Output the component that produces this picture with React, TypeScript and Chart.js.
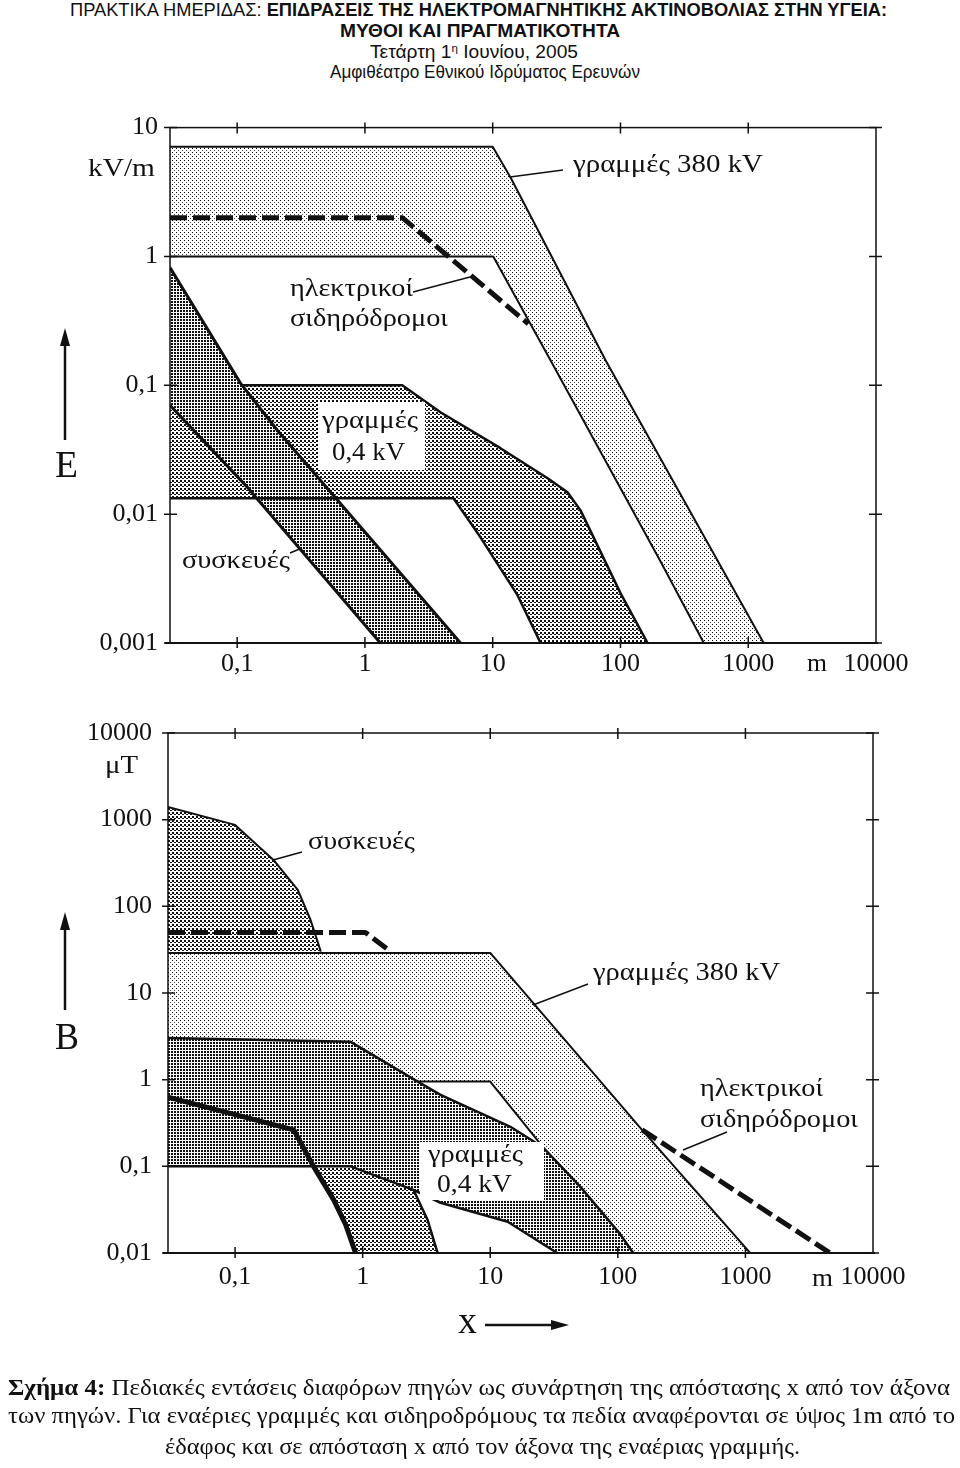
import React, { useEffect, useLayoutEffect, useRef } from 'react';
import { Chart, registerables } from 'chart.js';

Chart.register(...registerables);

const SERIF = '"Liberation Serif", "Times New Roman", serif';
const SANS_N = '"Liberation Sans Narrow", "Liberation Sans", Arial, sans-serif';

// ---------- axes ----------
const X_TICKS = [0.1, 1, 10, 100, 1000, 10000];
const X_LABELS = ['0,1', '1', '10', '100', '1000', '10000'];
const X_MIN = 0.0298;
const X_MAX = 10000;
const E_TICKS = [0.001, 0.01, 0.1, 1, 10];
const E_LABELS = ['0,001', '0,01', '0,1', '1', '10'];
const B_TICKS = [0.01, 0.1, 1, 10, 100, 1000, 10000];
const B_LABELS = ['0,01', '0,1', '1', '10', '100', '1000', '10000'];

// ---------- top chart: E (kV/m) ----------
// 380 kV lines band
const E_380_X = [0.0298, 10, 13.8, 76.6, 1320, 449, 207, 28.4, 10.1, 0.0298];
const E_380_Y = [7.1, 7.1, 4.1, 0.156, 0.001, 0.001, 0.00425, 0.156, 1, 1];
// 0.4 kV lines band
const E_04_X = [0.0298, 0.106, 1.96, 3.9, 11.5, 26.9, 38.5, 48.7, 100, 163, 23.7, 15.6, 8.0, 4.93, 0.0298];
const E_04_Y = [0.1, 0.1, 0.1, 0.0618, 0.0325, 0.019, 0.0148, 0.0107, 0.00244, 0.001, 0.001, 0.00236, 0.00664, 0.0133, 0.0133];
// appliances band
const E_APP_X = [0.0298, 0.106, 0.206, 5.6, 1.32, 0.12, 0.0298];
const E_APP_Y = [0.82, 0.104, 0.0448, 0.001, 0.001, 0.0162, 0.07];
// electric railways (dashed)
const E_RAIL_X = [0.0298, 1.96, 19];
const E_RAIL_Y = [2.0, 2.0, 0.3];

// ---------- bottom chart: B (uT) ----------
const B_380_X = [0.0298, 10, 150, 1089, 132, 26, 10, 2.7, 0.0298];
const B_380_Y = [29, 29, 0.278, 0.01, 0.01, 0.165, 0.95, 0.95, 0.95];
const B_04_X = [0.0298, 0.805, 2.7, 4.08, 14.4, 26, 50.9, 104, 132, 33.5, 13.7, 4.08, 2.5, 0.805, 0.0298];
const B_04_Y = [3.03, 2.73, 0.95, 0.668, 0.286, 0.165, 0.058, 0.0166, 0.01, 0.01, 0.0229, 0.038, 0.0536, 0.1, 0.1];
const B_APP_X = [0.0298, 0.1, 0.2, 0.31, 0.39, 0.47, 0.74, 1.15, 2.5, 3.23, 3.87, 0.88, 0.736, 0.593, 0.414, 0.288, 0.0298];
const B_APP_Y = [1400, 870, 343, 155, 70, 30, 2.9, 0.2, 0.0536, 0.024, 0.01, 0.01, 0.0212, 0.041, 0.0986, 0.264, 0.63];
const B_RAIL1_X = [0.0298, 1.05, 1.66];
const B_RAIL1_Y = [50, 50, 30];
const B_RAIL2_X = [155, 4600];
const B_RAIL2_Y = [0.264, 0.01];

type Pt = { x: number; y: number };
const zip = (xs: number[], ys: number[]): Pt[] => xs.map((x, i) => ({ x, y: ys[i] }));

function makePattern(ctx: CanvasRenderingContext2D, size: number, dots: [number, number, number, number, string][]) {
  const c = document.createElement('canvas');
  c.width = size;
  c.height = size;
  const g = c.getContext('2d')!;
  g.fillStyle = '#fff';
  g.fillRect(0, 0, size, size);
  for (const [x, y, w, h, col] of dots) {
    g.fillStyle = col;
    g.fillRect(x, y, w, h);
  }
  return ctx.createPattern(c, 'repeat')!;
}

const fillDs = (data: Pt[], bg: any) => ({
  data,
  showLine: true,
  fill: 'shape',
  backgroundColor: bg,
  borderColor: 'rgba(0,0,0,0)',
  borderWidth: 0,
  pointRadius: 0,
  pointHoverRadius: 0,
  tension: 0,
});

const lineDs = (data: Pt[], width: number, dash: number[] = []) => ({
  data,
  showLine: true,
  fill: false,
  borderColor: '#111',
  backgroundColor: '#111',
  borderWidth: width,
  borderDash: dash,
  borderJoinStyle: 'round',
  pointRadius: 0,
  pointHoverRadius: 0,
  tension: 0,
});

function framePlugin(xTicks: number[], yTicks: number[]) {
  return {
    id: 'frame',
    afterDraw(chart: any) {
      const { ctx, chartArea: a } = chart;
      const xs = chart.scales.x;
      const ys = chart.scales.y;
      ctx.save();
      ctx.strokeStyle = '#111';
      ctx.lineWidth = 1.5;
      ctx.strokeRect(a.left, a.top, a.right - a.left, a.bottom - a.top);
      ctx.lineWidth = 2;
      ctx.beginPath();
      ctx.moveTo(a.left - 5, a.bottom);
      ctx.lineTo(a.right + 2, a.bottom);
      ctx.stroke();
      ctx.lineWidth = 1.5;
      ctx.beginPath();
      for (const v of xTicks) {
        const p = xs.getPixelForValue(v);
        if (p < a.left + 3 || p > a.right - 3) continue;
        ctx.moveTo(p, a.bottom - 6);
        ctx.lineTo(p, a.bottom + 5);
        ctx.moveTo(p, a.top - 5);
        ctx.lineTo(p, a.top + 6);
      }
      for (const v of yTicks) {
        const p = ys.getPixelForValue(v);
        ctx.moveTo(a.left - 6, p);
        ctx.lineTo(a.left + 7, p);
        ctx.moveTo(a.right - 7, p);
        ctx.lineTo(a.right + 6, p);
      }
      ctx.stroke();
      ctx.restore();
    },
  };
}

type ChartCfg = {
  yMin: number;
  yMax: number;
  yTicks: number[];
  yLabels: string[];
  padding: { left: number; right: number; top: number; bottom: number };
  yWidth: number;
  xHeight: number;
  xPad: number;
  yPad: number;
  datasets: (P: any) => any[];
};

function LogChart({ top, height, cfg }: { top: number; height: number; cfg: ChartCfg }) {
  const ref = useRef<HTMLCanvasElement>(null);
  useEffect(() => {
    const canvas = ref.current!;
    const ctx = canvas.getContext('2d')!;
    const P = {
      light: makePattern(ctx, 4, [[0, 0, 1, 1, '#000'], [2, 2, 1, 1, '#444']]),
      medium: makePattern(ctx, 4, [[0, 0, 2, 2, '#111'], [2, 2, 2, 1, '#111']]),
      dense: makePattern(ctx, 3, [[0, 0, 2, 2, '#111']]),
    };
    const tickFont = { family: SERIF, size: 26 };
    const chart = new Chart(canvas, {
      type: 'scatter',
      data: { datasets: cfg.datasets(P) as any },
      options: {
        animation: false,
        responsive: false,
        maintainAspectRatio: false,
        events: [],
        layout: { padding: cfg.padding },
        plugins: {
          legend: { display: false },
          tooltip: { enabled: false },
          filler: { drawTime: 'beforeDatasetsDraw', propagate: false },
        },
        scales: {
          x: {
            type: 'logarithmic',
            min: X_MIN,
            max: X_MAX,
            afterBuildTicks: (s: any) => {
              s.ticks = X_TICKS.map((v) => ({ value: v }));
            },
            afterFit: (s: any) => {
              s.height = cfg.xHeight;
            },
            ticks: {
              autoSkip: false,
              maxRotation: 0,
              minRotation: 0,
              padding: cfg.xPad,
              color: '#111',
              font: tickFont,
              callback: (_v: any, i: number) => X_LABELS[i],
            },
            grid: { display: false, drawTicks: false },
            border: { display: false },
          },
          y: {
            type: 'logarithmic',
            min: cfg.yMin,
            max: cfg.yMax,
            afterBuildTicks: (s: any) => {
              s.ticks = cfg.yTicks.map((v) => ({ value: v }));
            },
            afterFit: (s: any) => {
              s.width = cfg.yWidth;
            },
            ticks: {
              autoSkip: false,
              padding: cfg.yPad,
              color: '#111',
              font: tickFont,
              callback: (_v: any, i: number) => cfg.yLabels[i],
            },
            grid: { display: false, drawTicks: false },
            border: { display: false },
          },
        },
      } as any,
      plugins: [framePlugin(X_TICKS, cfg.yTicks)],
    });
    return () => chart.destroy();
  }, []);
  return (
    <canvas
      ref={ref}
      width={960}
      height={height}
      style={{ position: 'absolute', left: 0, top, width: 960, height, display: 'block' }}
    />
  );
}

const topCfg: ChartCfg = {
  yMin: 0.001,
  yMax: 10,
  yTicks: E_TICKS,
  yLabels: E_LABELS,
  padding: { left: 0, right: 84, top: 27, bottom: 0 },
  yWidth: 170,
  xHeight: 57,
  xPad: 6,
  yPad: 12,
  datasets: (P) => {
    const app = zip(E_APP_X, E_APP_Y);
    const e04 = zip(E_04_X, E_04_Y);
    const e380 = zip(E_380_X, E_380_Y);
    return [
      fillDs(app, P.dense),
      fillDs(e04, P.medium),
      fillDs(e380, P.light),
      lineDs(zip(E_RAIL_X, E_RAIL_Y), 5, [17, 6]),
      lineDs(app.slice(0, 4), 3),
      lineDs(app.slice(4).reverse(), 3),
      lineDs(e04.slice(1, 10), 2.5),
      lineDs(e04.slice(10).reverse(), 2.5),
      lineDs(e380.slice(0, 5), 2),
      lineDs(e380.slice(5).reverse(), 2),
    ];
  },
};

const botCfg: ChartCfg = {
  yMin: 0.01,
  yMax: 10000,
  yTicks: B_TICKS,
  yLabels: B_LABELS,
  padding: { left: 0, right: 87, top: 33, bottom: 0 },
  yWidth: 168,
  xHeight: 47,
  xPad: 9,
  yPad: 16,
  datasets: (P) => {
    const app = zip(B_APP_X, B_APP_Y);
    const b04 = zip(B_04_X, B_04_Y);
    const b380 = zip(B_380_X, B_380_Y);
    return [
      fillDs(b04, P.dense),
      fillDs(b380, P.light),
      fillDs(app, P.medium),
      lineDs(zip(B_RAIL1_X, B_RAIL1_Y), 5, [17, 6]),
      lineDs(zip(B_RAIL2_X, B_RAIL2_Y), 5, [17, 6]),
      lineDs(app.slice(11), 5),
      lineDs(app.slice(0, 6), 2),
      lineDs(app.slice(8, 11), 2.5),
      lineDs(b04.slice(0, 9), 2.5),
      lineDs(b04.slice(9), 2.5),
      lineDs(b380.slice(0, 4), 2),
      lineDs(b380.slice(5, 8).reverse(), 2),
    ];
  },
};

type FitProps = {
  x: number;
  cy: number;
  w: number;
  fs: number;
  k?: number;
  family?: string;
  weight?: number | string;
  children: React.ReactNode;
};

function Fit({ x, cy, w, fs, k = 0.5, family = SERIF, weight = 'normal', children }: FitProps) {
  const ref = useRef<HTMLSpanElement>(null);
  useLayoutEffect(() => {
    const el = ref.current;
    if (!el) return;
    const apply = () => {
      el.style.transform = 'none';
      const cw = el.getBoundingClientRect().width;
      if (cw > 0) el.style.transform = `scaleX(${w / cw})`;
    };
    apply();
    const f = (document as any).fonts;
    if (f && f.ready) f.ready.then(apply);
  }, [w]);
  return (
    <span
      ref={ref}
      style={{
        position: 'absolute',
        left: x,
        top: cy - fs * k,
        fontSize: fs,
        lineHeight: `${fs}px`,
        fontFamily: family,
        fontWeight: weight as any,
        whiteSpace: 'nowrap',
        transformOrigin: '0 0',
        color: '#111',
      }}
    >
      {children}
    </span>
  );
}

const Box = ({ x, y, w, h }: { x: number; y: number; w: number; h: number }) => (
  <div style={{ position: 'absolute', left: x, top: y, width: w, height: h, background: '#fff' }} />
);

export default function App() {
  return (
    <div style={{ position: 'absolute', left: 0, top: 0, width: 960, height: 1468, background: '#fff', overflow: 'hidden' }}>
      {/* header */}
      <Fit x={70} cy={10} w={817} fs={18} k={0.49} family={SANS_N}>
        ΠΡΑΚΤΙΚΑ ΗΜΕΡΙΔΑΣ: <b>ΕΠΙΔΡΑΣΕΙΣ ΤΗΣ ΗΛΕΚΤΡΟΜΑΓΝΗΤΙΚΗΣ ΑΚΤΙΝΟΒΟΛΙΑΣ ΣΤΗΝ ΥΓΕΙΑ:</b>
      </Fit>
      <Fit x={340} cy={31} w={280} fs={18} k={0.49} family={SANS_N} weight="bold">
        ΜΥΘΟΙ ΚΑΙ ΠΡΑΓΜΑΤΙΚΟΤΗΤΑ
      </Fit>
      <Fit x={370} cy={53} w={208} fs={18} k={0.55} family={SANS_N}>
        Τετάρτη 1<span style={{ fontSize: '0.6em', position: 'relative', top: '-0.55em' }}>η</span> Ιουνίου, 2005
      </Fit>
      <Fit x={330} cy={73} w={310} fs={18} k={0.55} family={SANS_N}>
        Αμφιθέατρο Εθνικού Ιδρύματος Ερευνών
      </Fit>

      <LogChart top={100} height={600} cfg={topCfg} />
      <LogChart top={700} height={600} cfg={botCfg} />

      {/* annotation lines and arrows */}
      <svg width={960} height={1468} style={{ position: 'absolute', left: 0, top: 0 }}>
        <g stroke="#111" strokeWidth={1.5} fill="none">
          <line x1={413} y1={292} x2={470} y2={277} />
          <line x1={510} y1={177} x2={563} y2={170} />
          <line x1={290} y1={553} x2={302} y2={548} />
          <line x1={273} y1={860} x2={302} y2={852} />
          <line x1={533} y1={1005} x2={588} y2={984} />
          <line x1={683} y1={1150} x2={727} y2={1132} />
        </g>
        <g stroke="#111" strokeWidth={2.5}>
          <line x1={65} y1={440} x2={65} y2={340} />
          <line x1={65} y1={1010} x2={65} y2={925} />
          <line x1={485} y1={1325} x2={556} y2={1325} />
        </g>
        <g fill="#111">
          <polygon points="65,328 60,346 70,346" />
          <polygon points="65,912 60,930 70,930" />
          <polygon points="569,1325 551,1320 551,1330" />
        </g>
      </svg>

      {/* top chart labels */}
      <Fit x={88} cy={168} w={67} fs={26}>kV/m</Fit>
      <Fit x={55} cy={464} w={23} fs={38}>E</Fit>
      <Fit x={290} cy={291} w={123} fs={26} k={0.6}>ηλεκτρικοί</Fit>
      <Fit x={290} cy={321} w={158} fs={26} k={0.6}>σιδηρόδρομοι</Fit>
      <Fit x={573} cy={165} w={190} fs={26} k={0.55}>γραμμές  380 kV</Fit>
      <Box x={318} y={402} w={107} h={68} />
      <Fit x={322} cy={423} w={96} fs={26} k={0.6}>γραμμές</Fit>
      <Fit x={332} cy={452} w={73} fs={26}>0,4 kV</Fit>
      <Fit x={182} cy={563} w={108} fs={26} k={0.6}>συσκευές</Fit>
      <Fit x={807} cy={666} w={20} fs={26} k={0.61}>m</Fit>

      {/* bottom chart labels */}
      <Fit x={105} cy={766} w={33} fs={26} k={0.55}>μT</Fit>
      <Fit x={55} cy={1036} w={24} fs={38}>B</Fit>
      <Fit x={308} cy={844} w={107} fs={26} k={0.6}>συσκευές</Fit>
      <Fit x={593} cy={973} w={187} fs={26} k={0.55}>γραμμές 380 kV</Fit>
      <Fit x={700} cy={1091} w={123} fs={26} k={0.6}>ηλεκτρικοί</Fit>
      <Fit x={700} cy={1122} w={158} fs={26} k={0.6}>σιδηρόδρομοι</Fit>
      <Box x={420} y={1142} w={124} h={58} />
      <Fit x={428} cy={1157} w={95} fs={26} k={0.6}>γραμμές</Fit>
      <Fit x={437} cy={1184} w={75} fs={26}>0,4 kV</Fit>
      <Fit x={812} cy={1281} w={21} fs={26} k={0.61}>m</Fit>
      <Fit x={458} cy={1324} w={19} fs={38} k={0.61}>x</Fit>

      {/* caption */}
      <Fit x={8} cy={1389} w={942} fs={23} k={0.55}>
        <b>Σχήμα 4:</b> Πεδιακές εντάσεις διαφόρων πηγών ως συνάρτηση της απόστασης  x  από τον άξονα
      </Fit>
      <Fit x={8} cy={1417} w={947} fs={23} k={0.55}>
        των πηγών. Για εναέριες γραμμές και σιδηροδρόμους τα πεδία αναφέρονται σε ύψος 1m  από το
      </Fit>
      <Fit x={165} cy={1448} w={635} fs={23} k={0.55}>
        έδαφος και σε απόσταση x από τον άξονα της εναέριας γραμμής.
      </Fit>
    </div>
  );
}
